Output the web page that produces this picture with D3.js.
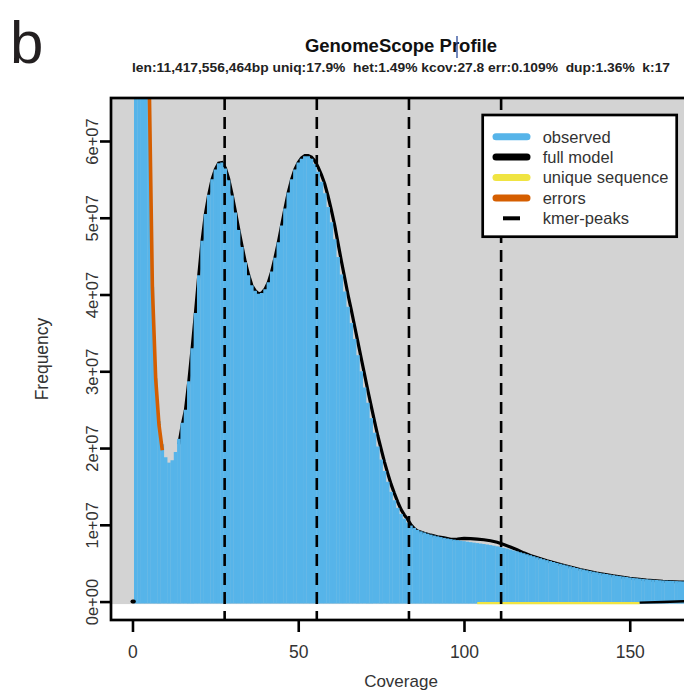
<!DOCTYPE html>
<html>
<head>
<meta charset="utf-8">
<script src="https://cdn.jsdelivr.net/npm/d3@7"></script>
<style>
  body { margin: 0; background: #fff; }
  svg { display: block; }
  text { font-family: "Liberation Sans", Arial, sans-serif; }
</style>
</head>
<body>
<svg id="chart"></svg>
<script>
// k-mer histogram, coverage 1..167
var observed = [
  3.0e9, 6.0e8, 2.2e8, 1.1e8, 6.9e7, 4.1e7, 2.9e7, 2.35e7, 2.05e7, 1.88e7,
  1.81e7, 1.84e7, 1.95e7, 2.12e7, 2.33e7, 2.5e7, 2.87e7, 3.3e7, 3.76e7, 4.25e7,
  4.7e7, 5.05e7, 5.3e7, 5.5e7, 5.63e7, 5.71e7, 5.72e7, 5.64e7, 5.49e7, 5.29e7,
  5.07e7, 4.84e7, 4.62e7, 4.42e7, 4.25e7, 4.12e7, 4.05e7, 4.01e7, 4.02e7, 4.07e7,
  4.16e7, 4.3e7, 4.48e7, 4.68e7, 4.9e7, 5.12e7, 5.33e7, 5.5e7, 5.63e7, 5.72e7,
  5.77e7, 5.8e7, 5.8e7, 5.77e7, 5.7e7, 5.6e7, 5.47e7, 5.32e7, 5.14e7, 4.94e7,
  4.72e7, 4.49e7, 4.26e7, 4.04e7, 3.84e7, 3.63e7, 3.42e7, 3.21e7, 3.0e7, 2.79e7,
  2.59e7, 2.39e7, 2.2e7, 2.02e7, 1.85e7, 1.7e7, 1.56e7, 1.43e7, 1.32e7, 1.22e7,
  1.14e7, 1.08e7, 1.03e7, 9.9e6, 9.6e6, 9.35e6, 9.15e6, 9.0e6, 8.85e6, 8.72e6,
  8.6e6, 8.5e6, 8.4e6, 8.3e6, 8.22e6, 8.14e6, 8.07e6, 8.0e6, 7.93e6, 7.87e6,
  7.8e6, 7.74e6, 7.68e6, 7.62e6, 7.56e6, 7.5e6, 7.43e6, 7.36e6, 7.28e6, 7.2e6,
  7.1e6, 7.0e6, 6.9e6, 6.78e6, 6.66e6, 6.54e6, 6.42e6, 6.3e6, 6.17e6, 6.04e6,
  5.91e6, 5.78e6, 5.65e6, 5.52e6, 5.4e6, 5.28e6, 5.16e6, 5.04e6, 4.93e6, 4.82e6,
  4.71e6, 4.6e6, 4.49e6, 4.38e6, 4.28e6, 4.18e6, 4.08e6, 3.99e6, 3.9e6, 3.82e6,
  3.74e6, 3.66e6, 3.59e6, 3.52e6, 3.45e6, 3.38e6, 3.32e6, 3.26e6, 3.2e6, 3.14e6,
  3.09e6, 3.04e6, 2.99e6, 2.95e6, 2.91e6, 2.87e6, 2.84e6, 2.81e6, 2.78e6, 2.75e6,
  2.73e6, 2.71e6, 2.69e6, 2.67e6, 2.65e6, 2.63e6, 2.61e6
];

// [coverage, frequency]
var fullModel = [
  [14, 2.05e7], [15, 2.3e7], [16, 2.5e7], [17, 2.87e7], [18, 3.3e7], [19, 3.76e7],
  [20, 4.25e7], [21, 4.7e7], [22, 5.05e7], [23, 5.3e7], [24, 5.5e7], [25, 5.63e7],
  [26, 5.71e7], [27, 5.72e7], [28, 5.65e7], [29, 5.51e7], [30, 5.31e7], [31, 5.09e7],
  [32, 4.86e7], [33, 4.64e7], [34, 4.43e7], [35, 4.26e7], [36, 4.12e7], [37, 4.05e7],
  [38, 4.01e7], [39, 4.02e7], [40, 4.07e7], [41, 4.16e7], [42, 4.3e7], [43, 4.48e7],
  [44, 4.68e7], [45, 4.9e7], [46, 5.12e7], [47, 5.33e7], [48, 5.5e7], [49, 5.63e7],
  [50, 5.72e7], [51, 5.78e7], [52, 5.81e7], [53, 5.81e7], [54, 5.79e7], [55, 5.74e7],
  [56, 5.66e7], [57, 5.56e7], [58, 5.44e7], [59, 5.28e7], [60, 5.1e7], [61, 4.9e7],
  [62, 4.67e7], [63, 4.44e7], [64, 4.22e7], [65, 4.0e7], [66, 3.8e7], [67, 3.59e7],
  [68, 3.38e7], [69, 3.17e7], [70, 2.96e7], [71, 2.75e7], [72, 2.55e7], [73, 2.35e7],
  [74, 2.16e7], [75, 1.99e7], [76, 1.82e7], [77, 1.67e7], [78, 1.53e7], [79, 1.41e7],
  [80, 1.3e7], [81, 1.2e7], [82, 1.13e7], [83, 1.07e7], [84, 1.0e7], [85, 9.5e6],
  [86, 9.2e6], [88, 8.9e6], [90, 8.65e6], [92, 8.45e6], [94, 8.3e6], [96, 8.1e6],
  [98, 8.15e6], [100, 8.23e6], [102, 8.2e6], [104, 8.14e6], [106, 8.05e6], [108, 7.92e6],
  [110, 7.72e6], [112, 7.44e6], [114, 7.1e6], [116, 6.75e6], [118, 6.35e6], [120, 6.0e6],
  [125, 5.3e6], [130, 4.72e6], [135, 4.18e6], [140, 3.72e6], [145, 3.35e6], [150, 3.04e6],
  [155, 2.81e6], [160, 2.65e6], [165, 2.55e6], [170, 2.46e6]
];
var fullModelLow = [[0, 0], [0.4, 0]];
var modelBase = [[153, 0], [160, 8e4], [170, 2.2e5]];
var uniqueSeq = [[104, 0], [153, 0]];
var errors = [[4, 1.1e8], [5, 6.9e7], [6, 4.1e7], [7, 2.9e7], [8, 2.3e7], [9, 1.97e7]];
var kmerPeaks = [27.8, 55.6, 83.4, 111.2];

var xTicks = [0, 50, 100, 150];
var yTicks = [0, 1e7, 2e7, 3e7, 4e7, 5e7, 6e7];
var legendLabels = ["observed", "full model", "unique sequence", "errors", "kmer-peaks"];
var legendColors = ["#56B4E9", "#000000", "#F0E442", "#D55E00", "#000000"];

var title = "GenomeScope Profile";
var subtitle = "len:11,417,556,464bp uniq:17.9%  het:1.49% kcov:27.8 err:0.109%  dup:1.36%  k:17";

var width = 684, height = 692;
var pLeft = 111, pRight = 691, pTop = 98, pBottom = 620;

var svg = d3.select("#chart").attr("width", width).attr("height", height);

var x = d3.scaleLinear().domain([-6.48, 168.48]).range([pLeft, pRight]);
var y = d3.scaleLinear().domain([-2.4e6, 6.56e7]).range([pBottom, pTop]);

svg.append("defs").append("clipPath").attr("id", "plotclip")
  .append("rect")
  .attr("x", pLeft).attr("y", pTop)
  .attr("width", pRight - pLeft).attr("height", pBottom - pTop);

var plot = svg.append("g").attr("clip-path", "url(#plotclip)");

// grey background above zero
plot.append("rect")
  .attr("x", pLeft).attr("y", pTop)
  .attr("width", pRight - pLeft)
  .attr("height", y(0) + 2.5 - pTop)
  .attr("fill", "#D3D3D3");

var line = d3.line().x(d => x(d[0])).y(d => y(d[1]));

// model sits under the histogram, shows only where it is above it
plot.append("path").datum(fullModel)
  .attr("d", line).attr("fill", "none")
  .attr("stroke", "#000").attr("stroke-width", 3.2);

// observed histogram, drawn as vertical lines (type="h")
plot.selectAll("line.obs")
  .data(observed)
  .enter()
  .append("line")
  .attr("class", "obs")
  .attr("x1", (d, i) => x(i + 1))
  .attr("x2", (d, i) => x(i + 1))
  .attr("y1", y(0) + 2)
  .attr("y2", d => Math.max(y(d), pTop - 5))
  .attr("stroke", "#56B4E9")
  .attr("stroke-width", 3.6);

plot.append("path").datum(uniqueSeq)
  .attr("d", line).attr("fill", "none")
  .attr("transform", "translate(0,1.5)")
  .attr("stroke", "#F0E442").attr("stroke-width", 2.2);

plot.append("path").datum(modelBase)
  .attr("d", line).attr("fill", "none")
  .attr("transform", "translate(0,1)")
  .attr("stroke", "#000").attr("stroke-width", 2.4);

plot.append("path").datum(fullModelLow)
  .attr("d", line).attr("fill", "none")
  .attr("stroke", "#000").attr("stroke-width", 4)
  .attr("stroke-linecap", "round");

plot.append("path").datum(errors)
  .attr("d", line).attr("fill", "none")
  .attr("stroke", "#D55E00").attr("stroke-width", 3.6);

// kmer peaks
plot.selectAll("line.peak")
  .data(kmerPeaks)
  .enter()
  .append("line")
  .attr("class", "peak")
  .attr("x1", d => x(d)).attr("x2", d => x(d))
  .attr("y1", pTop).attr("y2", pBottom)
  .attr("stroke", "#000")
  .attr("stroke-width", 2.6)
  .attr("stroke-dasharray", "12,7");

// legend
var lg = svg.append("g");
lg.append("rect")
  .attr("x", 482.7).attr("y", 115)
  .attr("width", 194).attr("height", 121.7)
  .attr("fill", "#fff").attr("stroke", "#000").attr("stroke-width", 2.7);

var rows = lg.selectAll("g.row")
  .data(legendLabels)
  .enter()
  .append("g")
  .attr("transform", (d, i) => "translate(0," + (136.7 + i * 20.4) + ")");

rows.append("line")
  .attr("x1", (d, i) => i === 4 ? 503 : 496)
  .attr("x2", (d, i) => i === 4 ? 520 : 527)
  .attr("stroke", (d, i) => legendColors[i])
  .attr("stroke-width", (d, i) => i === 4 ? 4 : 7)
  .attr("stroke-linecap", (d, i) => i === 4 ? "butt" : "round");

rows.append("text")
  .attr("x", 542.7).attr("dy", "0.36em")
  .attr("font-size", 16.5)
  .attr("fill", "#333")
  .text(d => d);

// box
svg.append("rect")
  .attr("x", pLeft).attr("y", pTop)
  .attr("width", pRight - pLeft).attr("height", pBottom - pTop)
  .attr("fill", "none").attr("stroke", "#000").attr("stroke-width", 2.7);

// axes
function rExp(d) {
  var p = d3.format(".0e")(d).split("e");
  return p[0] + "e" + p[1][0] + p[1].slice(1).padStart(2, "0");
}

var yAxis = svg.append("g")
  .attr("transform", "translate(" + pLeft + ",0)")
  .call(d3.axisLeft(y).tickValues(yTicks).tickSize(11).tickFormat(rExp));
yAxis.select(".domain").remove();
yAxis.selectAll("line").attr("stroke", "#000").attr("stroke-width", 2.6);
yAxis.selectAll("text")
  .attr("transform", "rotate(-90)")
  .attr("x", 0).attr("y", -13).attr("dy", 0)
  .attr("text-anchor", "middle")
  .attr("font-size", 16.5)
  .attr("fill", "#333");

var xAxis = svg.append("g")
  .attr("transform", "translate(0," + pBottom + ")")
  .call(d3.axisBottom(x).tickValues(xTicks).tickSize(12).tickFormat(d3.format("d")));
xAxis.select(".domain").remove();
xAxis.selectAll("line").attr("stroke", "#000").attr("stroke-width", 2.6);
xAxis.selectAll("text")
  .attr("y", 38).attr("dy", 0)
  .attr("font-size", 17.5)
  .attr("fill", "#333");

svg.append("text")
  .attr("x", 401).attr("y", 687)
  .attr("text-anchor", "middle")
  .attr("font-size", 17).attr("fill", "#333")
  .text("Coverage");

svg.append("text")
  .attr("transform", "translate(48,359) rotate(-90)")
  .attr("text-anchor", "middle")
  .attr("font-size", 17.5).attr("fill", "#333")
  .text("Frequency");

// titles
svg.append("text")
  .attr("x", 401).attr("y", 52)
  .attr("text-anchor", "middle")
  .attr("font-size", 18.5).attr("font-weight", "bold")
  .attr("fill", "#111")
  .text(title);

svg.append("text")
  .attr("x", 401).attr("y", 72)
  .attr("text-anchor", "middle")
  .attr("font-size", 13.5).attr("font-weight", "bold")
  .attr("fill", "#222")
  .attr("textLength", 538)
  .attr("lengthAdjust", "spacingAndGlyphs")
  .style("white-space", "pre")
  .text(subtitle);

// text cursor left in the title
svg.append("line")
  .attr("x1", 457).attr("x2", 457)
  .attr("y1", 36).attr("y2", 58)
  .attr("stroke", "#2a4a9a").attr("stroke-width", 1.3);

// panel letter
svg.append("text")
  .attr("x", 10).attr("y", 63)
  .attr("font-size", 60)
  .attr("fill", "#231f20")
  .text("b");
</script>
</body>
</html>
